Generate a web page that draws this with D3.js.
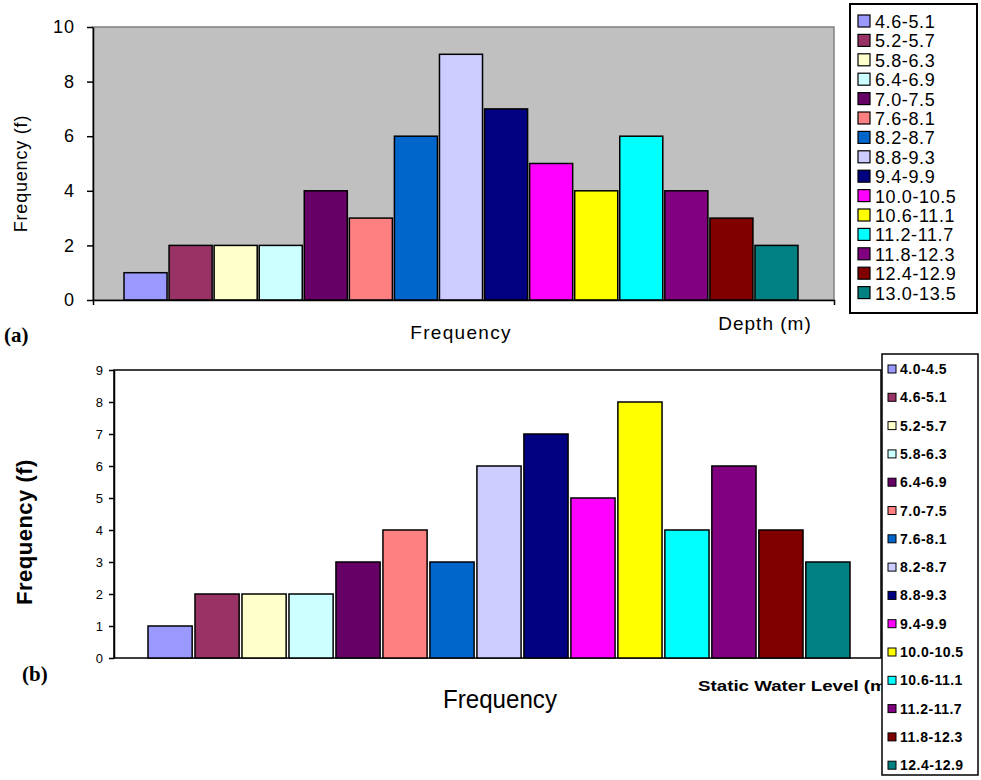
<!DOCTYPE html>
<html>
<head>
<meta charset="utf-8">
<script src="https://cdn.jsdelivr.net/npm/d3@7"></script>
<style>
  html, body { margin: 0; padding: 0; background: #fff; }
  svg { display: block; }
  text { font-family: "Liberation Sans", Arial, sans-serif; fill: #000; }
</style>
</head>
<body>
<svg id="chart" width="981" height="780"></svg>
<script>
// (a) well depth classes and their frequencies
const depthClasses = ["4.6-5.1","5.2-5.7","5.8-6.3","6.4-6.9","7.0-7.5","7.6-8.1","8.2-8.7",
  "8.8-9.3","9.4-9.9","10.0-10.5","10.6-11.1","11.2-11.7","11.8-12.3","12.4-12.9","13.0-13.5"];
const depthFreq = [1, 2, 2, 2, 4, 3, 6, 9, 7, 5, 4, 6, 4, 3, 2];
const depthTicks = [0, 2, 4, 6, 8, 10];

// (b) static water level classes and their frequencies
const swlClasses = ["4.0-4.5","4.6-5.1","5.2-5.7","5.8-6.3","6.4-6.9","7.0-7.5","7.6-8.1",
  "8.2-8.7","8.8-9.3","9.4-9.9","10.0-10.5","10.6-11.1","11.2-11.7","11.8-12.3","12.4-12.9"];
const swlFreq = [1, 2, 2, 2, 3, 4, 3, 6, 7, 5, 8, 4, 6, 4, 3];
const swlTicks = [0, 1, 2, 3, 4, 5, 6, 7, 8, 9];

// spreadsheet default series palette, one colour per class
const palette = ["#9999FF","#993366","#FFFFCC","#CCFFFF","#660066","#FF8080","#0066CC",
  "#CCCCFF","#000080","#FF00FF","#FFFF00","#00FFFF","#800080","#800000","#008080"];

const svg = d3.select("#chart");

/* ---------------- panel (a) ---------------- */
const A = { left: 93, right: 834, top: 27, bottom: 300 };
const ya = d3.scaleLinear().domain([0, 10]).range([A.bottom, A.top]);
const xa = d3.scaleBand().domain(depthClasses).range([124, 798]).paddingInner(0.045);
const ca = d3.scaleOrdinal().domain(depthClasses).range(palette);

const ga = svg.append("g");
ga.append("rect")
  .attr("x", A.left).attr("y", A.top)
  .attr("width", A.right - A.left).attr("height", A.bottom - A.top)
  .attr("fill", "#C0C0C0").attr("stroke", "#808080").attr("stroke-width", 1.5);

ga.selectAll("rect.bar").data(depthClasses).join("rect")
  .attr("class", "bar")
  .attr("x", d => xa(d))
  .attr("y", (d, i) => ya(depthFreq[i]))
  .attr("width", xa.bandwidth())
  .attr("height", (d, i) => ya(0) - ya(depthFreq[i]))
  .attr("fill", d => ca(d))
  .attr("stroke", "#000").attr("stroke-width", 1.5);

const axA = ga.append("g").attr("transform", `translate(${A.left},0)`)
  .call(d3.axisLeft(ya).tickValues(depthTicks).tickSize(6).tickSizeOuter(0).tickPadding(12));
axA.select(".domain").attr("stroke", "#000").attr("stroke-width", 1.5);
axA.selectAll(".tick line").attr("stroke", "#000").attr("stroke-width", 1.5);
axA.selectAll(".tick text").style("font-size", "18px").style("letter-spacing", "1px")
  .style("font-family", "'Liberation Sans', Arial, sans-serif").attr("fill", "#000");

const xbA = ga.append("g").attr("transform", `translate(0,${A.bottom})`)
  .call(d3.axisBottom(d3.scaleLinear().range([A.left, A.right])).tickValues([]).tickSizeOuter(5));
xbA.select(".domain").attr("stroke", "#000").attr("stroke-width", 1.5);

ga.append("text")
  .attr("transform", `translate(27,${(A.top + A.bottom) / 2 + 10}) rotate(-90)`)
  .attr("text-anchor", "middle")
  .style("font-size", "18px").style("letter-spacing", "0.8px")
  .text("Frequency (f)");

ga.append("text").attr("x", 461).attr("y", 339).attr("text-anchor", "middle")
  .style("font-size", "19px").style("letter-spacing", "1.3px").text("Frequency");
ga.append("text").attr("x", 765).attr("y", 330).attr("text-anchor", "middle")
  .style("font-size", "19px").style("letter-spacing", "1px").text("Depth (m)");

ga.append("text").attr("x", 4).attr("y", 342)
  .style("font-family", "'Liberation Serif', 'Times New Roman', serif")
  .style("font-size", "21px").style("font-weight", "bold").text("(a)");

// legend (a)
const legA = ga.append("g");
legA.append("rect").attr("x", 850).attr("y", 4).attr("width", 127).attr("height", 309)
  .attr("fill", "#fff").attr("stroke", "#000").attr("stroke-width", 2);
const legAItems = legA.selectAll("g.item").data(depthClasses).join("g")
  .attr("class", "item")
  .attr("transform", (d, i) => `translate(858,${21 + i * 19.4})`);
legAItems.append("rect").attr("x", 0).attr("y", -6).attr("width", 12).attr("height", 12)
  .attr("fill", d => ca(d)).attr("stroke", "#000").attr("stroke-width", 1.2);
legAItems.append("text").attr("x", 17).attr("y", 7)
  .style("font-size", "18px").style("letter-spacing", "0.6px").text(d => d);

/* ---------------- panel (b) ---------------- */
const B = { left: 114, right: 881, top: 370, bottom: 658 };
const yb = d3.scaleLinear().domain([0, 9]).range([B.bottom, B.top]);
const xb = d3.scaleBand().domain(swlClasses).range([148, 850]).paddingInner(0.06);
const cb = d3.scaleOrdinal().domain(swlClasses).range(palette);

const gb = svg.append("g");
gb.append("rect")
  .attr("x", B.left).attr("y", B.top)
  .attr("width", B.right - B.left).attr("height", B.bottom - B.top)
  .attr("fill", "#fff").attr("stroke", "#000").attr("stroke-width", 1.5);

gb.selectAll("rect.bar").data(swlClasses).join("rect")
  .attr("class", "bar")
  .attr("x", d => xb(d))
  .attr("y", (d, i) => yb(swlFreq[i]))
  .attr("width", xb.bandwidth())
  .attr("height", (d, i) => yb(0) - yb(swlFreq[i]))
  .attr("fill", d => cb(d))
  .attr("stroke", "#000").attr("stroke-width", 1.5);

const axB = gb.append("g").attr("transform", `translate(${B.left},0)`)
  .call(d3.axisLeft(yb).tickValues(swlTicks).tickSize(5).tickSizeOuter(0).tickPadding(6));
axB.select(".domain").attr("stroke", "#000").attr("stroke-width", 1.5);
axB.selectAll(".tick line").attr("stroke", "#000").attr("stroke-width", 1.5);
axB.selectAll(".tick text").style("font-size", "13px")
  .style("font-family", "'Liberation Sans', Arial, sans-serif").attr("fill", "#000");

gb.append("text")
  .attr("transform", `translate(32,${(B.top + B.bottom) / 2 + 18}) rotate(-90)`)
  .attr("text-anchor", "middle")
  .style("font-size", "22px").style("font-weight", "bold").style("letter-spacing", "0.5px")
  .text("Frequency (f)");

// narrow, tall axis caption
gb.append("text").attr("x", 443).attr("y", 708)
  .attr("textLength", 114).attr("lengthAdjust", "spacingAndGlyphs")
  .style("font-size", "25px").text("Frequency");

gb.append("text").attr("x", 698).attr("y", 691)
  .attr("textLength", 195).attr("lengthAdjust", "spacingAndGlyphs")
  .style("font-size", "14px").style("font-weight", "bold")
  .text("Static Water Level (m)");

gb.append("text").attr("x", 22).attr("y", 681)
  .style("font-family", "'Liberation Serif', 'Times New Roman', serif")
  .style("font-size", "21px").style("font-weight", "bold").text("(b)");

// legend (b)
const legB = gb.append("g");
legB.append("rect").attr("x", 882).attr("y", 354).attr("width", 96).attr("height", 421)
  .attr("fill", "#fff").attr("stroke", "#000").attr("stroke-width", 1.5);
const legBItems = legB.selectAll("g.item").data(swlClasses).join("g")
  .attr("class", "item")
  .attr("transform", (d, i) => `translate(888,${369 + i * 28.3})`);
legBItems.append("rect").attr("x", 0).attr("y", -4).attr("width", 8).attr("height", 8)
  .attr("fill", d => cb(d)).attr("stroke", "#000").attr("stroke-width", 1);
legBItems.append("text").attr("x", 12).attr("y", 5)
  .style("font-size", "14px").style("font-weight", "bold").style("letter-spacing", "0.5px")
  .text(d => d);
</script>
</body>
</html>
